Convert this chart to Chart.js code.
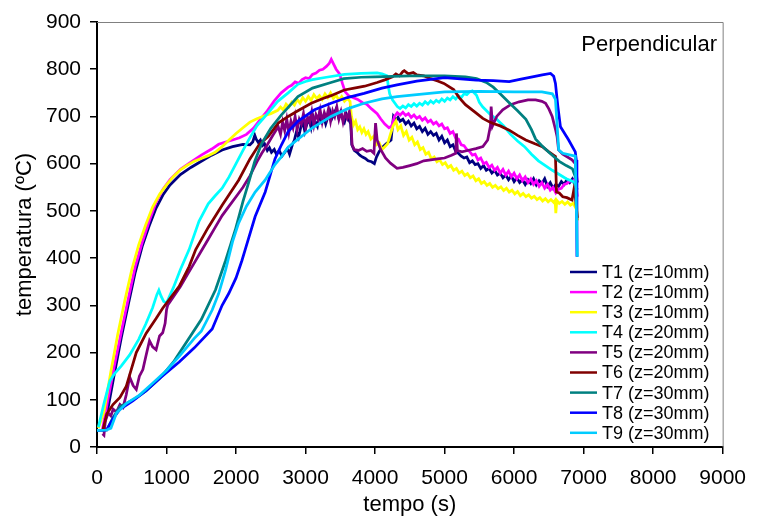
<!DOCTYPE html>
<html>
<head>
<meta charset="utf-8">
<script src="https://cdn.jsdelivr.net/npm/chart.js@4"></script>
<style>
  body { margin: 0; background: #fff; }
</style>
</head>
<body>
<canvas id="grafico" width="758" height="518"></canvas>
<script>
// Temperaturas medidas (ºC) ao longo do ensaio: pares [tempo (s), temperatura (ºC)]
const sensores = ['T1 (z=10mm)', 'T2 (z=10mm)', 'T3 (z=10mm)', 'T4 (z=20mm)', 'T5 (z=20mm)',
                  'T6 (z=20mm)', 'T7 (z=30mm)', 'T8 (z=30mm)', 'T9 (z=30mm)'];
const cores = ['#000080', '#ff00ff', '#ffff00', '#00ffff', '#800080', '#800000', '#008080', '#0000ff', '#00ccff'];

const T1 = [[80,33],[150,75],[250,155],[350,232],[450,302],[550,370],[650,425],[750,468],[850,506],[950,534],[1050,555],[1200,577],[1350,592],[1500,605],[1650,618],[1800,629],[1950,636],[2100,641],[2200,640],[2240,646],[2270,660],[2290,652],[2320,645],[2350,650],[2380,638],[2410,642],[2450,628],[2480,634],[2510,624],[2550,630],[2580,620],[2620,628],[2660,616],[2700,624],[2740,632],[2770,620],[2810,640],[2840,650],[2870,668],[2900,656],[2930,676],[2960,690],[2990,668],[3020,684],[3050,694],[3080,676],[3110,700],[3140,688],[3170,679],[3200,705],[3230,690],[3260,700],[3290,684],[3320,698],[3350,712],[3380,696],[3410,706],[3440,716],[3470,700],[3500,709],[3530,696],[3560,688],[3590,704],[3620,694],[3650,684],[3665,640],[3700,628],[3740,624],[3780,618],[3820,614],[3860,611],[3900,606],[3950,604],[3990,600],[4020,614],[4060,626],[4100,634],[4160,642],[4230,650],[4265,700],[4300,692],[4330,698],[4360,690],[4400,694],[4440,684],[4480,690],[4520,680],[4560,686],[4600,674],[4640,679],[4680,668],[4720,675],[4760,662],[4800,668],[4840,660],[4880,664],[4920,650],[4960,658],[5000,644],[5040,650],[5080,636],[5120,640],[5160,626],[5200,622],[5240,616],[5280,612],[5320,614],[5360,602],[5400,606],[5440,598],[5480,600],[5520,590],[5560,596],[5600,586],[5640,590],[5680,580],[5720,586],[5760,576],[5800,580],[5840,570],[5880,576],[5920,566],[5960,574],[6000,562],[6040,570],[6080,560],[6120,566],[6160,556],[6200,566],[6240,558],[6280,568],[6320,555],[6360,564],[6400,558],[6440,568],[6480,552],[6520,560],[6560,548],[6600,556],[6640,552],[6680,562],[6720,556],[6760,566],[6800,560],[6840,568],[6880,558],[6905,545]];

const T2 = [[80,38],[150,95],[250,172],[350,244],[450,314],[550,382],[650,433],[750,478],[850,518],[950,546],[1050,566],[1200,588],[1350,603],[1500,618],[1650,631],[1750,641],[1850,646],[1950,650],[2050,655],[2150,662],[2250,675],[2350,694],[2450,712],[2550,733],[2650,750],[2750,762],[2800,766],[2850,773],[2900,770],[2950,778],[3000,782],[3050,780],[3100,789],[3150,792],[3200,798],[3250,800],[3300,806],[3340,812],[3370,821],[3400,812],[3440,800],[3490,790],[3530,770],[3570,752],[3620,744],[3680,740],[3750,736],[3820,729],[3880,726],[3950,716],[4030,706],[4080,695],[4140,684],[4200,676],[4240,680],[4280,700],[4320,708],[4360,703],[4400,709],[4440,702],[4480,706],[4520,698],[4560,703],[4600,696],[4640,700],[4680,692],[4720,697],[4760,688],[4800,692],[4840,684],[4880,688],[4920,680],[4960,684],[5000,674],[5040,676],[5080,664],[5120,668],[5160,654],[5200,652],[5240,640],[5280,638],[5320,630],[5360,626],[5400,618],[5440,620],[5480,608],[5520,612],[5560,600],[5600,603],[5640,592],[5680,597],[5720,586],[5760,592],[5800,580],[5840,588],[5880,576],[5920,584],[5960,572],[6000,580],[6040,568],[6080,576],[6120,564],[6160,572],[6200,560],[6240,568],[6280,556],[6320,564],[6360,552],[6400,560],[6440,548],[6480,556],[6520,544],[6560,550],[6600,538],[6640,546],[6680,548],[6720,556],[6760,558],[6800,564],[6840,562],[6880,568],[6910,530]];

const T3 = [[20,40],[100,75],[200,160],[300,240],[400,310],[500,375],[600,428],[700,470],[800,508],[900,535],[1000,555],[1100,573],[1200,587],[1300,597],[1400,605],[1500,611],[1600,617],[1700,624],[1800,636],[1900,650],[2000,664],[2100,676],[2200,688],[2300,695],[2400,701],[2500,706],[2600,713],[2640,720],[2680,714],[2720,726],[2760,720],[2800,730],[2840,724],[2880,736],[2920,728],[2960,740],[3000,732],[3040,742],[3080,734],[3120,746],[3160,738],[3200,744],[3240,736],[3280,748],[3320,740],[3360,750],[3400,738],[3440,745],[3480,734],[3520,742],[3560,732],[3600,738],[3640,732],[3660,700],[3690,682],[3720,690],[3750,672],[3780,678],[3810,666],[3840,674],[3870,662],[3900,668],[3940,652],[3980,658],[4020,640],[4060,644],[4100,630],[4140,636],[4180,642],[4220,662],[4260,680],[4300,690],[4330,672],[4370,680],[4410,660],[4450,668],[4490,650],[4530,656],[4570,640],[4610,646],[4650,630],[4690,634],[4730,620],[4770,624],[4810,610],[4850,614],[4890,604],[4930,608],[4970,598],[5010,602],[5050,592],[5090,596],[5130,586],[5170,590],[5210,580],[5250,584],[5290,575],[5330,579],[5370,570],[5410,574],[5450,564],[5490,568],[5530,558],[5570,562],[5610,554],[5650,558],[5690,550],[5730,554],[5770,547],[5810,551],[5850,543],[5890,548],[5930,540],[5970,544],[6010,536],[6050,541],[6090,532],[6130,537],[6170,530],[6210,534],[6250,527],[6290,531],[6330,524],[6370,528],[6410,521],[6450,526],[6490,519],[6530,524],[6570,518],[6590,522],[6600,495],[6615,522],[6650,516],[6690,520],[6730,514],[6770,519],[6810,512],[6850,516],[6880,508],[6900,512],[6915,480]];

const T4 = [[20,42],[100,92],[185,140],[250,155],[350,172],[470,195],[600,228],[700,260],[800,295],[860,322],[890,332],[920,320],[960,308],[1000,305],[1100,338],[1200,376],[1325,418],[1467,478],[1600,515],[1700,532],[1800,548],[1900,572],[2000,600],[2100,628],[2180,650],[2300,680],[2465,708],[2600,732],[2750,750],[2890,768],[3000,774],[3100,778],[3300,783],[3560,789],[3800,791],[4030,792],[4100,790],[4170,786],[4190,765],[4210,748],[4250,735],[4320,721],[4360,717],[4400,722],[4440,718],[4480,725],[4520,721],[4560,727],[4600,722],[4640,728],[4680,724],[4720,731],[4760,726],[4800,733],[4840,728],[4880,734],[4920,730],[4960,737],[5000,732],[5040,739],[5080,735],[5120,742],[5160,737],[5200,744],[5240,740],[5280,748],[5320,746],[5360,752],[5400,754],[5460,745],[5500,730],[5550,720],[5650,705],[5750,694],[5850,680],[5950,662],[6050,648],[6150,636],[6250,620],[6350,606],[6450,596],[6550,586],[6650,577],[6750,568],[6850,562],[6910,545]];

const T5 = [[80,28],[100,25],[120,55],[160,72],[200,66],[232,80],[280,74],[330,90],[375,84],[420,110],[470,148],[520,130],[565,122],[610,150],[660,164],[700,190],[755,225],[800,212],[850,206],[900,235],[945,242],[980,262],[1000,290],[1016,300],[1100,318],[1200,340],[1300,365],[1400,390],[1500,415],[1600,440],[1700,465],[1800,490],[1900,510],[2000,530],[2100,550],[2200,574],[2300,604],[2370,622],[2450,640],[2530,660],[2607,678],[2640,662],[2670,688],[2700,670],[2730,694],[2760,666],[2790,690],[2820,676],[2850,700],[2880,672],[2910,694],[2940,684],[2970,706],[3000,676],[3030,698],[3060,688],[3090,710],[3120,682],[3150,704],[3180,694],[3210,714],[3240,688],[3270,708],[3300,696],[3330,716],[3360,690],[3390,712],[3420,700],[3450,720],[3480,694],[3510,710],[3540,688],[3570,706],[3600,696],[3630,710],[3650,690],[3670,640],[3700,630],[3760,628],[3820,632],[3880,626],[3940,628],[3984,622],[4007,686],[4030,650],[4080,630],[4150,612],[4221,601],[4316,590],[4400,592],[4500,596],[4600,600],[4700,606],[4800,608],[4900,610],[5000,612],[5100,618],[5160,622],[5171,664],[5185,628],[5250,625],[5361,629],[5450,632],[5551,636],[5620,650],[5660,680],[5670,721],[5690,680],[5750,700],[5836,714],[5950,725],[6073,731],[6200,735],[6310,735],[6400,732],[6453,728],[6500,716],[6548,700],[6600,670],[6619,657],[6640,629],[6700,620],[6833,608],[6880,600],[6910,560]];

const T6 = [[86,37],[140,70],[230,90],[330,105],[420,128],[565,200],[708,241],[850,272],[945,294],[1182,340],[1325,382],[1420,418],[1600,465],[1800,512],[2037,565],[2200,610],[2330,640],[2465,658],[2607,686],[2750,700],[2890,712],[3082,728],[3250,738],[3366,744],[3557,756],[3700,760],[3850,764],[4030,772],[4150,778],[4250,784],[4300,790],[4350,786],[4400,795],[4420,797],[4480,790],[4550,793],[4600,788],[4700,786],[4800,780],[4900,775],[4990,770],[5130,757],[5210,740],[5300,725],[5456,707],[5550,696],[5650,688],[5700,685],[5800,680],[5930,671],[6050,660],[6168,650],[6300,642],[6406,636],[6500,625],[6595,615],[6610,540],[6650,538],[6700,530],[6760,528],[6833,523],[6860,545],[6880,530],[6910,485]];

const T7 = [[0,35],[140,36],[230,62],[330,85],[520,100],[700,118],[900,145],[1100,180],[1300,225],[1500,270],[1705,333],[1850,395],[1990,460],[2100,520],[2179,559],[2270,605],[2370,643],[2500,675],[2650,703],[2890,742],[3100,760],[3366,772],[3550,780],[3800,783],[4000,784],[4500,786],[5000,786],[5300,784],[5460,780],[5600,772],[5700,762],[5800,748],[5930,729],[6050,712],[6170,694],[6250,672],[6310,652],[6400,638],[6500,624],[6650,605],[6750,596],[6840,589],[6910,560]];

const T8 = [[0,35],[140,36],[230,60],[330,80],[520,98],[710,120],[900,145],[1182,180],[1400,210],[1657,250],[1800,300],[1895,325],[2000,358],[2085,395],[2132,418],[2275,488],[2420,540],[2560,610],[2654,640],[2750,668],[2892,690],[3129,714],[3366,728],[3600,740],[3842,749],[4100,760],[4316,767],[4600,775],[5000,782],[5456,777],[5700,776],[5930,774],[6100,779],[6300,785],[6406,788],[6524,791],[6570,785],[6595,770],[6630,721],[6667,678],[6785,650],[6880,625],[6895,608],[6904,403]];

const T9 = [[0,35],[140,36],[200,40],[280,72],[420,92],[612,110],[800,135],[1000,162],[1182,192],[1400,230],[1500,245],[1657,290],[1750,325],[1850,375],[1950,435],[2037,474],[2150,510],[2275,540],[2417,565],[2560,598],[2654,615],[2750,635],[2892,652],[3100,676],[3366,700],[3600,716],[3842,728],[4100,737],[4316,742],[4600,746],[5000,752],[5500,753],[6000,752],[6400,752],[6550,748],[6595,736],[6642,629],[6700,622],[6880,616],[6910,403]];

const medicoes = [T1, T2, T3, T4, T5, T6, T7, T8, T9];

const fonte = "'Liberation Sans', Arial, sans-serif";

// legenda dentro da área do gráfico, canto inferior direito, e moldura cinza
const extras = {
    id: 'extras',
    beforeDatasetsDraw(chart) {
        const ctx = chart.ctx;
        const a = chart.chartArea;
        ctx.save();
        ctx.strokeStyle = '#808080';
        ctx.lineWidth = 1;
        ctx.beginPath();
        ctx.moveTo(a.left, a.top + 0.5);
        ctx.lineTo(a.right + 0.5, a.top + 0.5);
        ctx.lineTo(a.right + 0.5, a.bottom);
        ctx.stroke();
        ctx.restore();
    },
    afterDraw(chart) {
        const ctx = chart.ctx;
        ctx.save();
        ctx.font = '18px ' + fonte;
        ctx.textBaseline = 'middle';
        chart.data.datasets.forEach((ds, i) => {
            const y = 272 + i * 20.1;
            ctx.strokeStyle = ds.borderColor;
            ctx.lineWidth = 2.5;
            ctx.beginPath();
            ctx.moveTo(570, y);
            ctx.lineTo(597, y);
            ctx.stroke();
            ctx.fillStyle = '#000';
            ctx.fillText(ds.label, 602, y + 1);
        });
        ctx.font = '22px ' + fonte;
        ctx.textAlign = 'right';
        ctx.fillText('Perpendicular', 717, 45);
        ctx.restore();
    }
};

new Chart(document.getElementById('grafico'), {
    type: 'line',
    data: {
        datasets: sensores.map((nome, i) => ({
            label: nome,
            data: medicoes[i].map(p => ({ x: p[0], y: p[1] })),
            borderColor: cores[i],
            backgroundColor: cores[i],
            borderWidth: 2.75,
            pointRadius: 0,
            tension: 0,
            fill: false,
            order: 9 - i
        }))
    },
    options: {
        responsive: false,
        animation: false,
        layout: { padding: { top: 22, right: 29, bottom: 0, left: 0 } },
        plugins: { legend: { display: false }, tooltip: { enabled: false } },
        scales: {
            x: {
                type: 'linear',
                min: 0,
                max: 9000,
                afterFit: s => { s.height = 71; },
                ticks: { stepSize: 1000, maxRotation: 0, autoSkip: false, color: '#000', padding: 12,
                         callback: v => String(v), font: { family: fonte, size: 21 } },
                grid: { drawOnChartArea: false, tickLength: 7, color: '#000', lineWidth: 1.5 },
                border: { color: '#000', width: 2 },
                title: { display: true, text: 'tempo (s)', color: '#000', padding: { top: 6, bottom: 0 },
                         font: { family: fonte, size: 22 } }
            },
            y: {
                min: 0,
                max: 900,
                afterFit: s => { s.width = 97; },
                ticks: { stepSize: 100, color: '#000', padding: 9, callback: v => String(v),
                         font: { family: fonte, size: 21 } },
                grid: { drawOnChartArea: false, tickLength: 7, color: '#000', lineWidth: 1.5 },
                border: { color: '#000', width: 2 },
                title: { display: true, text: 'temperatura (ºC)', color: '#000', padding: { top: 12, bottom: 0 },
                         font: { family: fonte, size: 22 } }
            }
        }
    },
    plugins: [extras]
});
</script>
</body>
</html>
